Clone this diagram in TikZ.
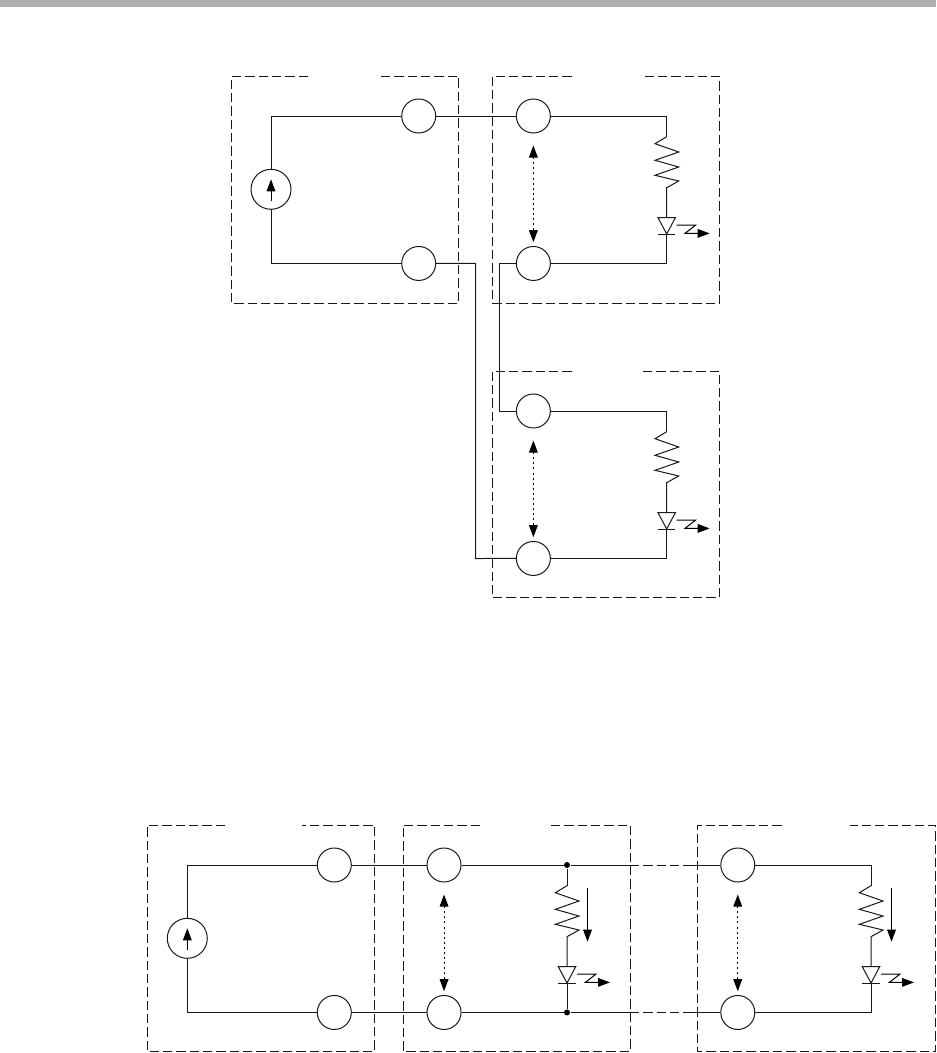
\documentclass[tikz,border=0pt]{standalone}
\usepackage{tikz}
\usetikzlibrary{positioning,arrows.meta}

\begin{document}
\begin{tikzpicture}[
                x=.75pt, y=-.75pt, on grid, line width=.75pt, black!90,
                tipped/.style={-{Triangle[length=9pt,width=6.5pt]}, black},
                dotarrow/.style={{Triangle[length=9pt,width=6.5pt]}-{Triangle[length=9pt,width=6.5pt]}, black, dash pattern=on 1.5pt off 2.3pt, shorten <=9pt, shorten >=2.8pt},
                frame/.style={dash pattern=on 7pt off 3pt, black!90},
                port/.style={circle, draw=black!90, fill=white, inner sep=0pt, minimum size=25.5pt},
                source/.style={circle, draw=black!90, fill=white, inner sep=0pt, minimum size=30pt},
                junction/.style={circle, fill=black, inner sep=0pt, minimum size=4.5pt},
                load/.pic={
                    \coordinate (-in) at (0,20.7);
                    \coordinate (-out) at (0,101.7);
                    \coordinate (-led) at (0,118);
                    \draw (-in) -- (-11.7,27.7) -- (12,36) -- (-11.7,44.3) -- (12,51) -- (-11.7,59.3) -- (12,65) -- (0,71.7) -- (-out);
                    \draw (-8.7,101.7) -- (8.7,101.7) -- (-led) -- cycle;
                    \draw (-8.7,118) -- (8.7,118);
                    \draw[tipped] (10,109) -- (29,109) -- (18.3,117.4) -- (43,117.4);
                },
                sense/.pic={
                    \draw[tipped] (20.5,23.3) -- (20.5,76.7);
                },
            ]
            \useasboundingbox (0,0) rectangle (936,1053);
            \fill[black!31] (0,0) rectangle (936,7);

            % upper circuit
            \draw[frame] (308,76) -| (231.5,303.3) -| (458.7,76) -- (380,76);
            \draw[frame] (571.7,76) -| (492.3,303.3) -| (719.5,76) -- (642,76);
            \draw[frame] (571.7,371) -| (492.3,597.5) -| (719.5,371) -- (642,371);

            \node[source] (srcA)  at (271,189.3)  {};
            \node[port]   (portA) at (418.7,116)  {};
            \node[port]   (portB) [below = 110.6pt of portA]  {};
            \node[port]   (portC) [right = 86pt of portA]     {};
            \node[port]   (portD) [right = 86pt of portB]     {};
            \node[port]   (portE) [below = 221.25pt of portC] {};
            \node[port]   (portF) [below = 110.6pt of portE]  {};
            \coordinate   (bendA) at (475.7,558.5);
            \coordinate   (bendB) at (499.7,411);

            \path (666.7,116) pic (loadA) {load};
            \path (666.7,411) pic (loadB) {load};

            \draw (portA.west) -| (srcA.north);
            \draw (portB.west) -| (srcA.south);
            \draw (portA.east) -- (portC.west);
            \draw (portC.east) -| (loadA-in);
            \draw (loadA-led) |- (portD.east);
            \draw (portB.east) -| (bendA) -- (portF.west);
            \draw (portD.west) -| (bendB) -- (portE.west);
            \draw (portE.east) -| (loadB-in);
            \draw (loadB-led) |- (portF.east);
            \draw[dotarrow] (portC) -- (portD);
            \draw[dotarrow] (portE) -- (portF);
            \draw[tipped] ([yshift=-8.5pt]srcA.center) -- ([yshift=7.5pt]srcA.center);

            % lower circuit
            \draw[frame] (225,825) -| (147.3,1051.5) -| (374.7,825) -- (302.3,825);
            \draw[frame] (480,825) -| (403,1051.5) -| (630,825) -- (550.7,825);
            \draw[frame] (781.7,825) -| (697.3,1051.5) -| (935.5,825) -- (850,825);

            \node[source] (srcB)  at (187.3,938.3) {};
            \node[port]   (portG) at (334.3,865)   {};
            \node[port]   (portH) [below = 110.6pt of portG] {};
            \node[port]   (portI) [right = 82.3pt of portG]  {};
            \node[port]   (portJ) [right = 82.3pt of portH]  {};
            \node[port]   (portK) [right = 220.3pt of portI] {};
            \node[port]   (portL) [right = 220.3pt of portJ] {};

            \path (567,865) pic (loadC) {load} pic {sense};
            \path (871,865) pic (loadD) {load} pic {sense};

            \node[junction] (dotA) at (567,865)    {};
            \node[junction] (dotB) at (portJ -| dotA) {};
            \coordinate (linkA) at (630,865);
            \coordinate (linkB) at (690,865);
            \coordinate (linkC) at (linkA |- portJ);
            \coordinate (linkD) at (linkB |- portJ);

            \draw (portG.west) -| (srcB.north);
            \draw (portH.west) -| (srcB.south);
            \draw (portG.east) -- (portI.west);
            \draw (portH.east) -- (portJ.west);
            \draw (portI.east) -- (dotA) -- (linkA);
            \draw (portJ.east) -- (dotB) -- (linkC);
            \draw[frame] (linkA) -- (linkB);
            \draw[frame] (linkC) -- (linkD);
            \draw (linkB) -- (portK.west);
            \draw (linkD) -- (portL.west);
            \draw (dotA) -- (loadC-in);
            \draw (loadC-led) -- (dotB);
            \draw (portK.east) -| (loadD-in);
            \draw (loadD-led) |- (portL.east);
            \draw[dotarrow] (portI) -- (portJ);
            \draw[dotarrow] (portK) -- (portL);
            \draw[tipped] ([yshift=-8.5pt]srcB.center) -- ([yshift=7.5pt]srcB.center);
        \end{tikzpicture}
\end{document}
